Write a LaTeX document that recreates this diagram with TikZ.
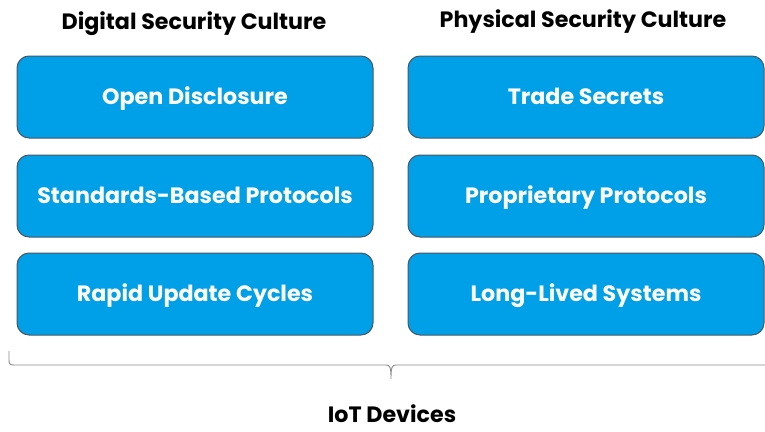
\documentclass[tikz,border=0pt]{standalone}
\usepackage{fontspec}
\setmainfont{Poppins}
\definecolor{boxblue}{HTML}{00A0E9}
\definecolor{boxedge}{HTML}{4A5660}
\definecolor{bracegray}{HTML}{8C8C8C}
\begin{document}
\begin{tikzpicture}[x=1pt,y=-1pt,
  cellbox/.style={draw=boxedge, line width=1pt, fill=boxblue, rounded corners=12pt,
    minimum width=356pt, minimum height=82pt, text=white, font=\bfseries\fontsize{22.2}{25}\selectfont,
    inner sep=0pt, text height=15.5pt, text depth=0pt},
  headtext/.style={text=black, font=\bfseries\fontsize{22.2}{25}\selectfont, inner sep=0pt,
    text height=15.5pt, text depth=0pt}]
\useasboundingbox (0,0) rectangle (765,431);
\node[headtext] (h1) at (194,22) {Digital Security Culture};
\node[headtext] (h2) at (583,20) {Physical Security Culture};
\node[cellbox] (a1) at (195,97) {Open Disclosure};
\node[cellbox] (a2) at (195,196) {Standards-Based Protocols};
\node[cellbox] (a3) at (195,294) {Rapid Update Cycles};
\node[cellbox] (b1) at (586,97) {Trade Secrets};
\node[cellbox] (b2) at (586,196) {Proprietary Protocols};
\node[cellbox] (b3) at (586,294) {Long-Lived Systems};
\node[headtext] (iot) at (392,415) {IoT Devices};
\coordinate (bl) at (9,351);
\coordinate (bt) at (391,379);
\coordinate (br) at (775,365);
\draw[bracegray, line width=0.9pt]
  (bl) -- (9,360) .. controls (9,364) and (10,365) .. (14,365)
  -- (386,365) .. controls (390,365) and (391,367) .. (bt)
  .. controls (391,367) and (392,365) .. (396,365) -- (br);
\end{tikzpicture}
\end{document}
